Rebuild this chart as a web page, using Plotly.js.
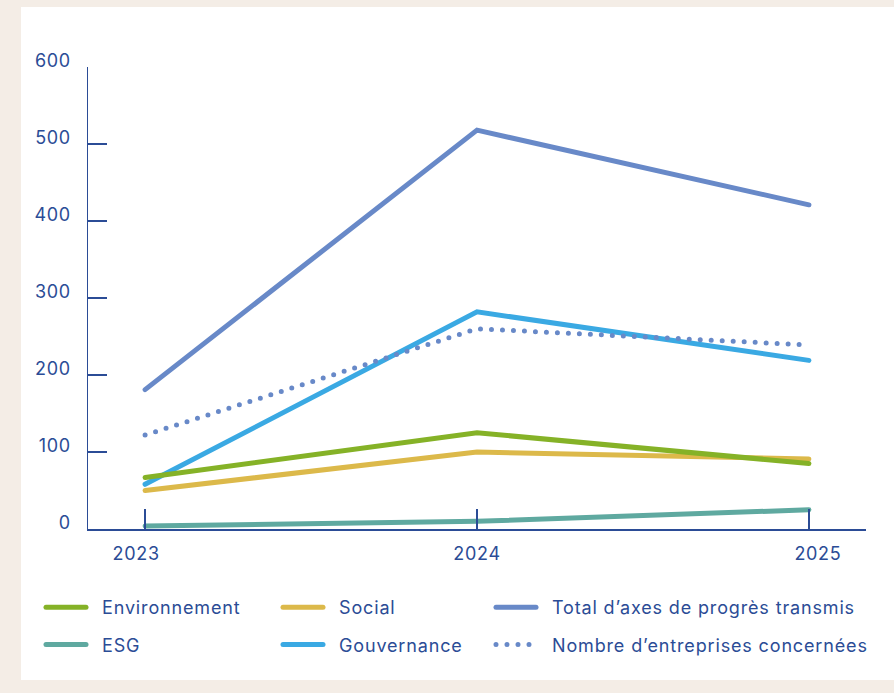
<!DOCTYPE html>
<html>
<head>
<meta charset="utf-8">
<script src="https://cdn.plot.ly/plotly-3.0.1.min.js"></script>
<style>
  html, body { margin: 0; padding: 0; background: #f4ede6; width: 894px; height: 693px; overflow: hidden; }
  #chart { position: absolute; left: 21px; top: 7px; width: 873px; height: 673px; background: #ffffff; }
  #chart .js-line { stroke-linecap: round; }
</style>
</head>
<body>
<div id="chart"></div>
<script>
// ---- data ----
const years = [2023, 2024, 2025];
const environnement = [67, 125, 85];
const social = [50, 100, 91];
const esg = [4, 10, 25];
const gouvernance = [58, 282, 219];
const totalAxes = [181, 518, 421];
const nombreEntreprises = [122, 260, 239];
const yTicks = [0, 100, 200, 300, 400, 500, 600];

const NAVY = '#2b4c96';
const FONT = 'Inter, "Open Sans", sans-serif';

function line(name, y, color, legend, dash) {
  return {
    type: 'scatter', mode: 'lines', name: name, x: years, y: y,
    line: { color: color, width: 5, dash: dash || 'solid' },
    legend: legend, legendgroup: name, cliponaxis: false, hoverinfo: 'skip'
  };
}

const traces = [
  line('Social', social, '#dcb94a', 'legend2'),
  line('Gouvernance', gouvernance, '#3aa9e3', 'legend2'),
  line('Total d\u2019axes de progrès transmis', totalAxes, '#6889c8', 'legend3'),
  line('Nombre d\u2019entreprises concernées', nombreEntreprises, '#6889c8', 'legend3', '0px,11px'),
  line('Environnement', environnement, '#85b227', 'legend'),
  line('ESG', esg, '#5fa9a0', 'legend')
];

const W = 873, H = 673;
const mL = 67, mR = 28, mT = 60, mB = 151;
const pw = W - mL - mR, ph = H - mT - mB;
function px(xc) { return (xc - mL) / pw; }
function py(yc) { return 1 - (yc - mT) / ph; }

function legendAt(xc, yc) {
  return {
    x: px(xc), y: py(yc), xanchor: 'left', yanchor: 'top',
    orientation: 'v', bgcolor: 'rgba(0,0,0,0)', borderwidth: 0,
    traceorder: 'grouped', tracegroupgap: 11, itemwidth: 40,
    font: { family: FONT, size: 18, color: NAVY }
  };
}

const layout = {
  width: W, height: H,
  paper_bgcolor: '#ffffff', plot_bgcolor: '#ffffff',
  margin: { l: mL, r: mR, t: mT, b: mB, pad: 0 },
  font: { family: FONT, size: 18, color: NAVY },
  showlegend: true,
  xaxis: {
    range: [2022.828, 2025.172], tickvals: years, ticktext: years.map(String),
    ticks: 'inside', ticklen: 20, tickwidth: 1.5, tickcolor: NAVY,
    showline: true, linecolor: NAVY, linewidth: 1.5,
    showgrid: false, zeroline: false, fixedrange: true,
    ticklabelstandoff: 8,
    tickfont: { family: FONT, size: 18, color: NAVY }
  },
  yaxis: {
    range: [0, 600], tickvals: yTicks,
    ticks: 'inside', ticklen: 19, tickwidth: 1.5, tickcolor: NAVY,
    showline: true, linecolor: NAVY, linewidth: 1.5,
    showgrid: false, zeroline: false, fixedrange: true,
    ticklabelshift: -6, ticklabelstandoff: 12,
    tickfont: { family: FONT, size: 18, color: NAVY }
  },
  legend: legendAt(20, 582),
  legend2: legendAt(257, 582),
  legend3: legendAt(470, 582)
};

Plotly.newPlot('chart', traces, layout, { displayModeBar: false, staticPlot: true }).then(function (gd) {
  // widen legend typography and the symbol-to-text gap, as in the original
  gd.querySelectorAll('.legendtext, .legend2text, .legend3text').forEach(function (t) {
    t.style.letterSpacing = '0.85px';
    t.setAttribute('x', (parseFloat(t.getAttribute('x')) || 0) + 11);
  });
  gd.querySelectorAll('.legend .scrollbox, .legend2 .scrollbox, .legend3 .scrollbox').forEach(function (s) {
    s.removeAttribute('clip-path');
  });
  gd.querySelectorAll('.xtick text, .ytick text').forEach(function (t) {
    t.style.letterSpacing = '0.7px';
  });
  // outer year labels sit slightly outward from their ticks in the original
  var xl = gd.querySelectorAll('.xtick text');
  if (xl.length === years.length) {
    xl[0].setAttribute('x', (parseFloat(xl[0].getAttribute('x')) || 0) - 9);
    xl[xl.length - 1].setAttribute('x', (parseFloat(xl[xl.length - 1].getAttribute('x')) || 0) + 9);
  }
});
</script>
</body>
</html>
